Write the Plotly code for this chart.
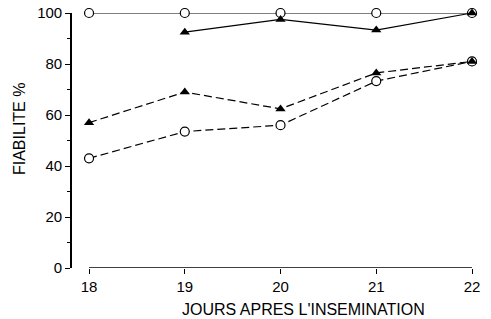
import plotly.graph_objects as go

days = [18, 19, 20, 21, 22]
days_b = [19, 20, 21, 22]
circ_solid = [100, 100, 100, 100, 100]
tri_solid = [92.5, 97.5, 93.3, 100]
tri_dash = [57, 69, 62.4, 76.5, 81]
circ_dash = [43, 53.5, 56, 73.3, 81]
y_ticks = [0, 20, 40, 60, 80, 100]
x_ticks = [18, 19, 20, 21, 22]

FONT = "Liberation Sans, Arial, sans-serif"
tri_marker = dict(symbol="triangle-up", size=9, color="black")
circ_marker = dict(symbol="circle", size=9, color="white", line=dict(width=1.2, color="black"))

fig = go.Figure()
fig.add_trace(go.Scatter(x=days, y=circ_dash, mode="lines+markers",
                         line=dict(color="black", width=1.2, dash="8px,4px"),
                         marker=circ_marker, cliponaxis=False))
fig.add_trace(go.Scatter(x=days, y=circ_solid, mode="lines+markers",
                         line=dict(color="black", width=1.1),
                         marker=circ_marker, cliponaxis=False))
fig.add_trace(go.Scatter(x=days, y=tri_dash, mode="lines+markers",
                         line=dict(color="black", width=1.2, dash="8px,4px"),
                         marker=tri_marker, cliponaxis=False))
fig.add_trace(go.Scatter(x=days_b, y=tri_solid, mode="lines+markers",
                         line=dict(color="black", width=1.1),
                         marker=tri_marker, cliponaxis=False))

fig.add_shape(type="line", x0=18, x1=22, y0=0, y1=0, xref="x", yref="y",
              line=dict(color="black", width=1.6))

fig.add_annotation(text="FIABILITE %", xref="paper", yref="paper", x=-0.1325, y=0.545,
                   textangle=-90, showarrow=False, xanchor="center", yanchor="middle",
                   font=dict(size=16))
fig.add_annotation(text="JOURS APRES L'INSEMINATION", xref="paper", yref="paper", x=0.5775, y=-0.161,
                   showarrow=False, xanchor="center", yanchor="middle",
                   font=dict(size=16))

fig.update_layout(
    width=491, height=319,
    margin=dict(l=72, r=19, t=13, b=51),
    paper_bgcolor="white", plot_bgcolor="white",
    showlegend=False,
    hovermode=False,
    font=dict(family=FONT, size=15, color="black"),
    xaxis=dict(range=[17.822, 22.0], tickvals=x_ticks, showgrid=False, zeroline=False,
               showline=False, ticks="outside", ticklen=5, tickcolor="black",
               tickfont=dict(size=15), automargin=False, ticklabeloverflow="allow"),
    yaxis=dict(range=[0, 100], tickvals=y_ticks, showgrid=False, zeroline=False,
               showline=True, linecolor="black", linewidth=1.6,
               ticks="outside", ticklen=5, tickcolor="black",
               minor=dict(ticks="outside", dtick=10, ticklen=3, tickcolor="black"),
               tickfont=dict(size=15), automargin=False, ticklabeloverflow="allow"),
)

fig.write_html("out.html", config={"displayModeBar": False},
               post_script="document.body.style.margin='0';")
